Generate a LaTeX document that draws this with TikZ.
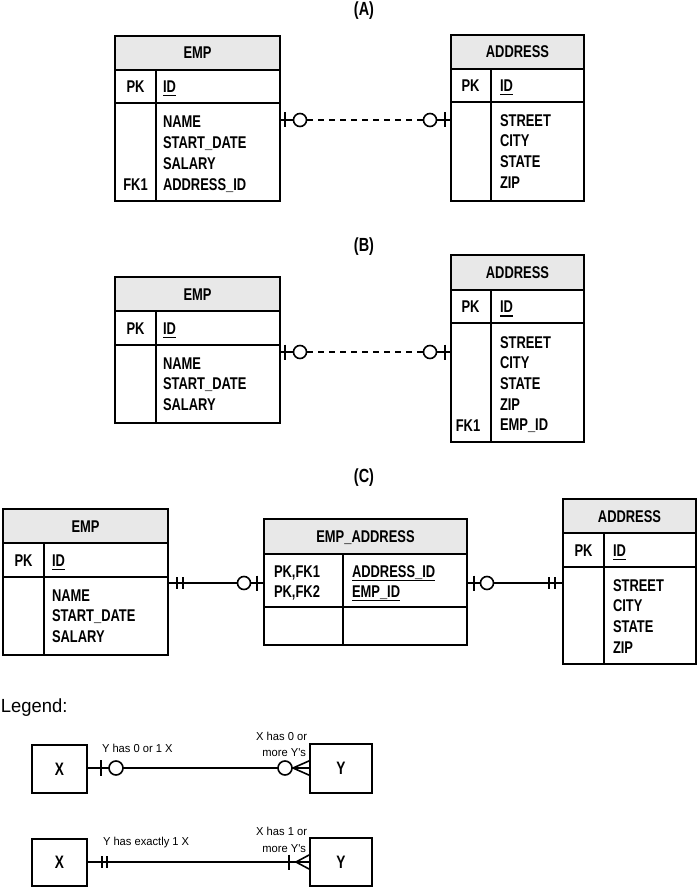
\documentclass[tikz,border=0pt]{standalone}
\usepackage{fontspec}
\setmainfont{Liberation Sans}
\newfontfamily\tf[FakeStretch=0.76]{Liberation Sans}
\newfontfamily\lf[FakeStretch=0.97]{Liberation Sans}
\usetikzlibrary{fit,calc}
\newcommand\ulx[1]{\setbox0\hbox{#1}\rlap{\rule[-4pt]{\wd0}{1.5pt}}\box0}
\tikzset{
  every node/.style={inner sep=0pt, outer sep=0pt},
  fld/.style={font=\tf\bfseries\fontsize{17}{20}\selectfont},
  ttl/.style={font=\tf\bfseries\fontsize{19}{22}\selectfont},
  small/.style={font=\lf\fontsize{11.5}{13}\selectfont},
  hdr/.style={fill=black!9},
  tbl/.style={draw, line width=1.9pt, inner sep=0pt},
  tline/.style={line width=1.9pt},
  conn/.style={line width=1.6pt},
  crc/.style={line width=1.6pt, fill=white},
  lbox/.style={draw, line width=1.7pt, font=\tf\bfseries\fontsize{18}{20}\selectfont},
}
% #1 name, #2 left, #3 top, #4 right, #5 bottom, #6 header bottom, #7 pk-row bottom, #8 divider x, #9 title
\newcommand\ertab[9]{%
  \fill[hdr] (#2,#3) rectangle (#4,#6);
  \path (#2,#3) coordinate (#1-nw) (#4,#5) coordinate (#1-se);
  \node[tbl, fit=(#1-nw)(#1-se)] (#1) {};
  \draw[tline] (#2,#6) -- (#4,#6) (#2,#7) -- (#4,#7) (#8,#6) -- (#8,#5);
  \node[fld, anchor=base] (#1-title) at ({(#2+#4)/2},{(#3+#6)/2+6}) {#9};
}
\begin{document}
\begin{tikzpicture}[x=1pt,y=-1pt]
\path[use as bounding box] (0,0) rectangle (698,888);

% ---------------- (A) ----------------
\node[ttl, anchor=base] (titleA) at (364,16) {(A)};
\ertab{empA}{115}{36}{280}{201}{70}{103}{156}{EMP}
\node[fld,anchor=base] (empA-pk) at (135.5,92.5) {PK};
\node[fld,anchor=base west] (empA-id) at (163,92.5) {\ulx{ID}};
\foreach \t [count=\i] in {NAME,START\_DATE,SALARY,ADDRESS\_ID}
  \node[fld,anchor=base west] (empA-f\i) at (163,{128+20.67*(\i-1)}) {\t};
\node[fld,anchor=base] (empA-fk) at (135.5,190) {FK1};

\ertab{addrA}{451}{35}{584}{201}{69}{102}{491}{ADDRESS}
\node[fld,anchor=base] (addrA-pk) at (470.5,91.5) {PK};
\node[fld,anchor=base west] (addrA-id) at (500,91.5) {\ulx{ID}};
\foreach \t [count=\i] in {STREET,CITY,STATE,ZIP}
  \node[fld,anchor=base west] (addrA-f\i) at (500,{126+20.67*(\i-1)}) {\t};

\coordinate (a1) at (empA.east |- 0,120);
\coordinate (a2) at (addrA.west |- 0,120);
\draw[conn, dash pattern=on 6pt off 5pt] ($(a1)+(27,0)$) -- ($(a2)+(-28,0)$);
\draw[conn] (a1) -- ($(a1)+(14,0)$);
\draw[conn] ($(a1)+(5,-7.5)$) -- ($(a1)+(5,7.5)$);
\draw[crc] ($(a1)+(20,0)$) circle[radius=6.5pt];
\draw[conn] ($(a2)+(-15,0)$) -- (a2);
\draw[conn] ($(a2)+(-6,-7.5)$) -- ($(a2)+(-6,7.5)$);
\draw[crc] ($(a2)+(-21,0)$) circle[radius=6.5pt];

% ---------------- (B) ----------------
\node[ttl, anchor=base] (titleB) at (364,251) {(B)};
\ertab{empB}{115}{277}{280}{423}{311}{345}{156}{EMP}
\node[fld,anchor=base] (empB-pk) at (135.5,334) {PK};
\node[fld,anchor=base west] (empB-id) at (163,334) {\ulx{ID}};
\foreach \t [count=\i] in {NAME,START\_DATE,SALARY}
  \node[fld,anchor=base west] (empB-f\i) at (163,{369+20.67*(\i-1)}) {\t};

\ertab{addrB}{451}{255}{584}{442}{290}{323}{491}{ADDRESS}
\node[fld,anchor=base] (addrB-pk) at (470.5,312.5) {PK};
\node[fld,anchor=base west] (addrB-id) at (500,312.5) {\ulx{ID}};
\foreach \t [count=\i] in {STREET,CITY,STATE,ZIP,EMP\_ID}
  \node[fld,anchor=base west] (addrB-f\i) at (500,{348+20.67*(\i-1)}) {\t};
\node[fld,anchor=base] (addrB-fk) at (468,431) {FK1};

\coordinate (b1) at (empB.east |- 0,352);
\coordinate (b2) at (addrB.west |- 0,352);
\draw[conn, dash pattern=on 6pt off 5pt] ($(b1)+(27,0)$) -- ($(b2)+(-28,0)$);
\draw[conn] (b1) -- ($(b1)+(14,0)$);
\draw[conn] ($(b1)+(5,-7.5)$) -- ($(b1)+(5,7.5)$);
\draw[crc] ($(b1)+(20,0)$) circle[radius=6.5pt];
\draw[conn] ($(b2)+(-15,0)$) -- (b2);
\draw[conn] ($(b2)+(-6,-7.5)$) -- ($(b2)+(-6,7.5)$);
\draw[crc] ($(b2)+(-21,0)$) circle[radius=6.5pt];

% ---------------- (C) ----------------
\node[ttl, anchor=base] (titleC) at (364,482) {(C)};
\ertab{empC}{3}{509}{168}{655}{543}{577}{44}{EMP}
\node[fld,anchor=base] (empC-pk) at (23.5,566) {PK};
\node[fld,anchor=base west] (empC-id) at (52,566) {\ulx{ID}};
\foreach \t [count=\i] in {NAME,START\_DATE,SALARY}
  \node[fld,anchor=base west] (empC-f\i) at (52,{601+20.67*(\i-1)}) {\t};

\ertab{eaC}{264}{519}{467}{645}{554}{607}{343}{EMP\_ADDRESS}
\node[fld,anchor=base west] (eaC-k1) at (274,577) {PK,FK1};
\node[fld,anchor=base west] (eaC-k2) at (274,597) {PK,FK2};
\node[fld,anchor=base west] (eaC-f1) at (352,577) {\ulx{ADDRESS\_ID}};
\node[fld,anchor=base west] (eaC-f2) at (352,597) {\ulx{EMP\_ID}};

\ertab{addrC}{563}{499}{696}{664}{533}{567}{604}{ADDRESS}
\node[fld,anchor=base] (addrC-pk) at (583.5,556) {PK};
\node[fld,anchor=base west] (addrC-id) at (613,556) {\ulx{ID}};
\foreach \t [count=\i] in {STREET,CITY,STATE,ZIP}
  \node[fld,anchor=base west] (addrC-f\i) at (613,{591+20.67*(\i-1)}) {\t};

\coordinate (c1) at (empC.east |- 0,583);
\coordinate (c2) at (eaC.west |- 0,583);
\draw[conn] (c1) -- (c2);
\draw[conn] ($(c1)+(9,-6)$) -- ($(c1)+(9,6)$);
\draw[conn] ($(c1)+(15,-6)$) -- ($(c1)+(15,6)$);
\draw[crc] ($(c2)+(-20,0)$) circle[radius=6.5pt];
\draw[conn] ($(c2)+(-7,-7.5)$) -- ($(c2)+(-7,7.5)$);

\coordinate (d1) at (eaC.east |- 0,583);
\coordinate (d2) at (addrC.west |- 0,583);
\draw[conn] (d1) -- (d2);
\draw[conn] ($(d1)+(7,-7.5)$) -- ($(d1)+(7,7.5)$);
\draw[crc] ($(d1)+(20,0)$) circle[radius=6.5pt];
\draw[conn] ($(d2)+(-14,-6)$) -- ($(d2)+(-14,6)$);
\draw[conn] ($(d2)+(-8,-6)$) -- ($(d2)+(-8,6)$);

% ---------------- Legend ----------------
\node[font=\lf\fontsize{19}{21}\selectfont, anchor=base west] (legend) at (1,712) {Legend:};

\node[lbox, minimum width=55pt, minimum height=48pt] (x1) at (59.5,769) {X};
\node[lbox, minimum width=62pt, minimum height=49pt] (y1) at (341,768.5) {Y};
\coordinate (l1) at (x1.east |- 0,768);
\coordinate (l2) at (y1.west |- 0,768);
\draw[conn] (l1) -- (l2);
\draw[conn] ($(l1)+(14,-8)$) -- ($(l1)+(14,8)$);
\draw[crc] ($(l1)+(29,0)$) circle[radius=7pt];
\draw[crc] ($(l2)+(-25,0)$) circle[radius=7pt];
\draw[conn] ($(l2)+(0,-7.5)$) -- ($(l2)+(-17,0)$) -- ($(l2)+(0,7.5)$);
\node[small, anchor=base west] (lab1) at (102,752) {Y has 0 or 1 X};
\node[small, anchor=base east] (lab2a) at (307,740) {X has 0 or};
\node[small, anchor=base east] (lab2b) at (306,756) {more Y's};

\node[lbox, minimum width=55pt, minimum height=47pt] (x2) at (59.5,862.5) {X};
\node[lbox, minimum width=62pt, minimum height=48pt] (y2) at (341,862) {Y};
\coordinate (m1) at (x2.east |- 0,862);
\coordinate (m2) at (y2.west |- 0,862);
\draw[conn] (m1) -- (m2);
\draw[conn] ($(m1)+(15,-6)$) -- ($(m1)+(15,6)$);
\draw[conn] ($(m1)+(20,-6)$) -- ($(m1)+(20,6)$);
\draw[conn] ($(m2)+(-21,-7.5)$) -- ($(m2)+(-21,7.5)$);
\draw[conn] ($(m2)+(0,-7.5)$) -- ($(m2)+(-14,0)$) -- ($(m2)+(0,7.5)$);
\node[small, anchor=base west] (lab3) at (103,845) {Y has exactly 1 X};
\node[small, anchor=base east] (lab4a) at (307,835) {X has 1 or};
\node[small, anchor=base east] (lab4b) at (306,852) {more Y's};
\end{tikzpicture}
\end{document}
